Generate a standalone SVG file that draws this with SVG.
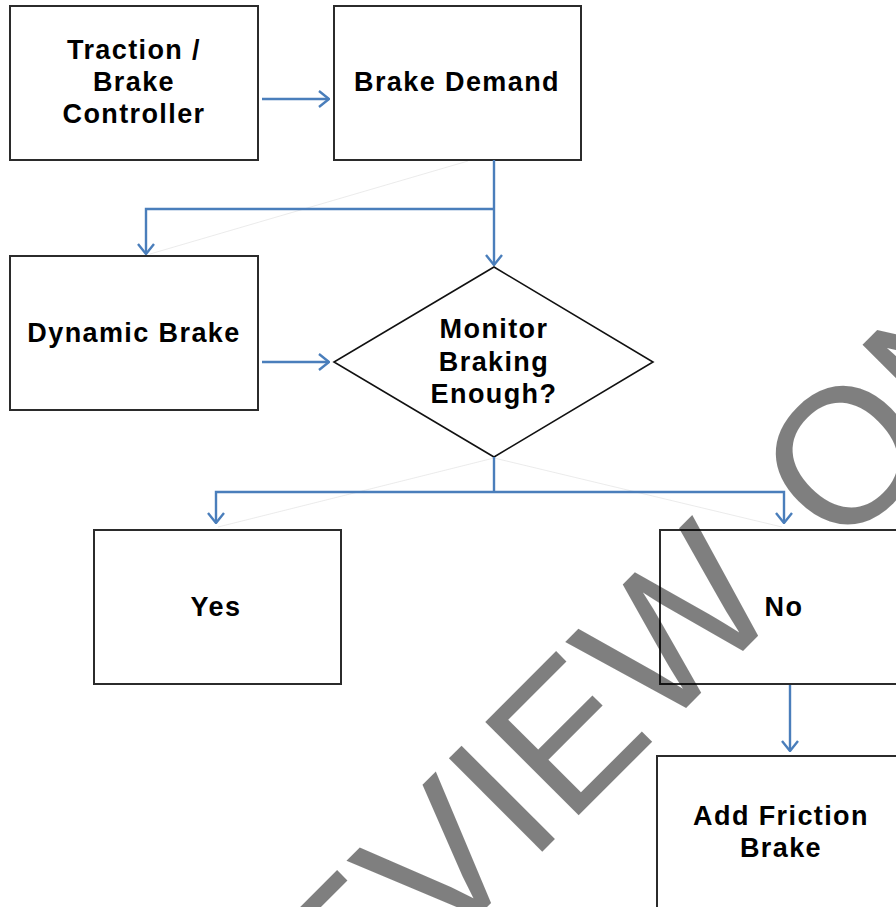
<svg xmlns="http://www.w3.org/2000/svg" width="896" height="907" viewBox="0 0 896 907">
<style>
.box{fill:#fff;stroke:#2b2b2b;stroke-width:2}
.dia{fill:#fff;stroke:#111;stroke-width:1.6}
.lbl{font-family:"Liberation Sans",Arial,sans-serif;font-weight:bold;font-size:27px;letter-spacing:1.4px;fill:#000;text-anchor:middle}
.con{fill:none;stroke:#4a7ebb;stroke-width:2.4}
.ghost{fill:none;stroke:#e2e2e2;stroke-width:0.7}
.wm{font-family:"Liberation Sans",Arial,sans-serif;font-size:192px;fill:#000;fill-opacity:0.5}
</style>
<defs>
<marker id="arr" viewBox="0 0 12 18" refX="11" refY="9" markerWidth="12" markerHeight="18" markerUnits="userSpaceOnUse" orient="auto">
<path d="M1,1 L11,9 L1,17" fill="none" stroke="#4a7ebb" stroke-width="2.4"/>
</marker>
</defs>
<rect width="896" height="907" fill="#fff"/>
<g id="ghost-lines">
<line class="ghost" x1="468" y1="161" x2="150" y2="254"/>
<line class="ghost" x1="494" y1="458" x2="218" y2="527"/>
<line class="ghost" x1="494" y1="458" x2="782" y2="527"/>
</g>
<g id="n-traction">
<rect class="box" x="10" y="6" width="248" height="154"/>
<text class="lbl" x="134" y="59">Traction /</text>
<text class="lbl" x="134" y="91">Brake</text>
<text class="lbl" x="134" y="123">Controller</text>
</g>
<g id="n-demand">
<rect class="box" x="334" y="6" width="247" height="154"/>
<text class="lbl" x="457" y="91">Brake Demand</text>
</g>
<g id="n-dynamic">
<rect class="box" x="10" y="256" width="248" height="154"/>
<text class="lbl" x="134" y="342">Dynamic Brake</text>
</g>
<g id="n-monitor">
<polygon class="dia" points="494,267 653,362 494,457 334,362"/>
<text class="lbl" x="494" y="338">Monitor</text>
<text class="lbl" x="494" y="371">Braking</text>
<text class="lbl" x="494" y="403">Enough?</text>
</g>
<g id="n-yes">
<rect class="box" x="94" y="530" width="247" height="154"/>
<text class="lbl" x="216" y="616">Yes</text>
</g>
<g id="n-no">
<rect class="box" x="660" y="530" width="248" height="154"/>
<text class="lbl" x="784" y="616">No</text>
</g>
<g id="n-friction">
<rect class="box" x="657" y="756" width="248" height="170"/>
<text class="lbl" x="781" y="825">Add Friction</text>
<text class="lbl" x="781" y="857">Brake</text>
</g>
<g id="connectors">
<line class="con" x1="262" y1="99" x2="329" y2="99" marker-end="url(#arr)"/>
<line class="con" x1="262" y1="362" x2="329" y2="362" marker-end="url(#arr)"/>
<line class="con" x1="494" y1="160" x2="494" y2="265" marker-end="url(#arr)"/>
<polyline class="con" points="494,209 146,209 146,254" marker-end="url(#arr)"/>
<line class="con" x1="494" y1="457" x2="494" y2="492"/>
<polyline class="con" points="494,492 216,492 216,523" marker-end="url(#arr)"/>
<polyline class="con" points="494,492 784,492 784,523" marker-end="url(#arr)"/>
<line class="con" x1="790" y1="685" x2="790" y2="751" marker-end="url(#arr)"/>
</g>
<g id="watermark">
<text class="wm" x="160" y="1234" transform="rotate(-45 160 1234)">PREVIEW<tspan dx="75">ONLY</tspan></text>
</g>
</svg>
